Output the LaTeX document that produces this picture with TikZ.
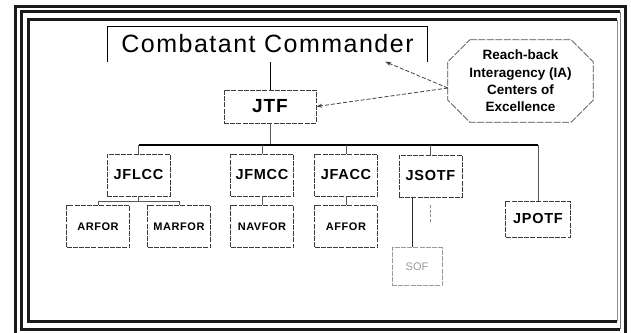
\documentclass[tikz,border=0pt]{standalone}
\usepackage{fontspec}
\setmainfont{Liberation Sans}
\newfontfamily\ccfont[LetterSpace=6]{Liberation Sans}
\newfontfamily\unitfont[LetterSpace=5]{Liberation Sans}
\usetikzlibrary{calc,arrows.meta}
\definecolor{cframe}{HTML}{1a1a1a}
\definecolor{cbox}{HTML}{3c3c3c}
\definecolor{csof}{HTML}{9a9a9a}

\tikzset{
  unitbox/.style={draw=cbox, line width=0.8pt, dash pattern=on 5pt off 1.2pt,
    inner sep=0pt, minimum width=63pt, minimum height=42pt,
    font=\unitfont\bfseries\fontsize{14.5}{16}\selectfont},
  forcebox/.style={unitbox, font=\unitfont\bfseries\fontsize{11}{13}\selectfont},
  link/.style={draw=black!65, line width=0.8pt},
  busline/.style={draw=black, line width=2pt},
  octline/.style={draw=black!70, line width=0.7pt, dash pattern=on 7pt off 1.5pt},
  reach/.style={draw=black!75, line width=0.8pt, dash pattern=on 4pt off 2pt,
    -{Stealth[length=6pt,width=4pt]}},
}

\begin{document}
\begin{tikzpicture}[x=1pt,y=-1pt]
  \useasboundingbox (0,0) rectangle (631,332);
  % frame
  \draw[cframe,line width=3pt] (15.5,340) -- (15.5,6.5) -- (625.5,6.5) -- (625.5,340);
  \draw[cframe,line width=3pt] (620,329) -- (21,329) -- (21,11.5) -- (620,11.5);
  \draw[cframe!60,line width=1pt] (620,11.5) -- (620,329);
  \draw[cframe,line width=3pt] (617,321) -- (28.5,321) -- (28.5,19.5) -- (617,19.5);
  \draw[cframe!50,line width=1pt] (617,19.5) -- (617,321);

  % commander and JTF
  \node[minimum width=319pt, minimum height=35pt, inner sep=0pt] (cc) at (267.5,44)
    {\ccfont\fontsize{25}{30}\selectfont Combatant Commander};
  \draw[black, line width=0.8pt] (cc.south west) -- (cc.north west) -- (cc.north east) -- (cc.south east);
  \node[unitbox, minimum width=92pt, minimum height=33pt,
    font=\unitfont\bfseries\fontsize{19}{22}\selectfont] (jtf) at (270,106.5) {JTF};
  \draw[black, line width=0.8pt] (jtf.north) -- (jtf.north |- cc.south);

  % reach-back octagon
  \node[minimum width=145pt, minimum height=82pt, inner sep=0pt, align=center,
    font=\bfseries\fontsize{13.5}{17.4}\selectfont] (ia) at (520.5,81)
    {Reach-back\\Interagency (IA)\\Centers of\\Excellence};
  \draw[octline] ($(ia.north west)+(22,0)$) -- ($(ia.north east)+(-22,0)$)
    -- ($(ia.north east)+(0,22)$) -- ($(ia.south east)+(0,-22)$)
    -- ($(ia.south east)+(-22,0)$) -- ($(ia.south west)+(22,0)$)
    -- ($(ia.south west)+(0,-22)$) -- ($(ia.north west)+(0,22)$) -- cycle;
  \coordinate (iaport) at ($(ia.west)+(0,7)$);
  \coordinate (ccport) at ($(cc.south east)+(-42,0)$);
  \draw[reach] (iaport) -- (jtf.east);
  \draw[reach] (iaport) -- (ccport);

  % components
  \node[unitbox] (jflcc) at (138.5,175) {JFLCC};
  \node[unitbox] (jfmcc) at (262,175) {JFMCC};
  \node[unitbox] (jfacc) at (346,175) {JFACC};
  \node[unitbox] (jsotf) at (430.5,176) {JSOTF};
  \node[unitbox, minimum width=65pt, minimum height=36pt] (jpotf) at (538,219) {JPOTF};

  % bus
  \coordinate (bus) at (270,145);
  \draw[link] (jtf.south) -- (bus);
  \draw[busline] (jflcc.north |- bus) -- (jpotf.north |- bus);
  \foreach \n in {jflcc,jfmcc,jfacc,jsotf,jpotf}
    {\draw[link] (\n.north |- bus) -- (\n.north);}

  % service forces
  \node[forcebox] (arfor) at (98,226.5) {ARFOR};
  \node[forcebox] (marfor) at (179,226.5) {MARFOR};
  \node[forcebox] (navfor) at (262,226.5) {NAVFOR};
  \node[forcebox] (affor) at (346,226.5) {AFFOR};
  \node[forcebox, draw=csof, minimum width=50pt, minimum height=38pt,
    font=\fontsize{11}{13}\selectfont, text=csof] (sof) at (417,266.5) {SOF};

  \draw[link] (jflcc.south) -- ++(0,5) coordinate (fork);
  \draw[link] (arfor.north) |- (fork) -| (marfor.north);
  \draw[link] (jfmcc.south) -- (navfor.north);
  \draw[link] (jfacc.south) -- (affor.north);
  \draw[black!85, line width=0.8pt] ($(jsotf.south)+(-18,0)$) coordinate (sofport)
    -- (sofport |- sof.north);
  \coordinate (stubtop) at ($(jsotf.south)+(0,8)$);
  \coordinate (stubend) at ($(jsotf.south)+(0,25)$);
  \draw[black!45, line width=0.7pt, dash pattern=on 3pt off 1.5pt] (stubtop) -- (stubend);
\end{tikzpicture}
\end{document}
